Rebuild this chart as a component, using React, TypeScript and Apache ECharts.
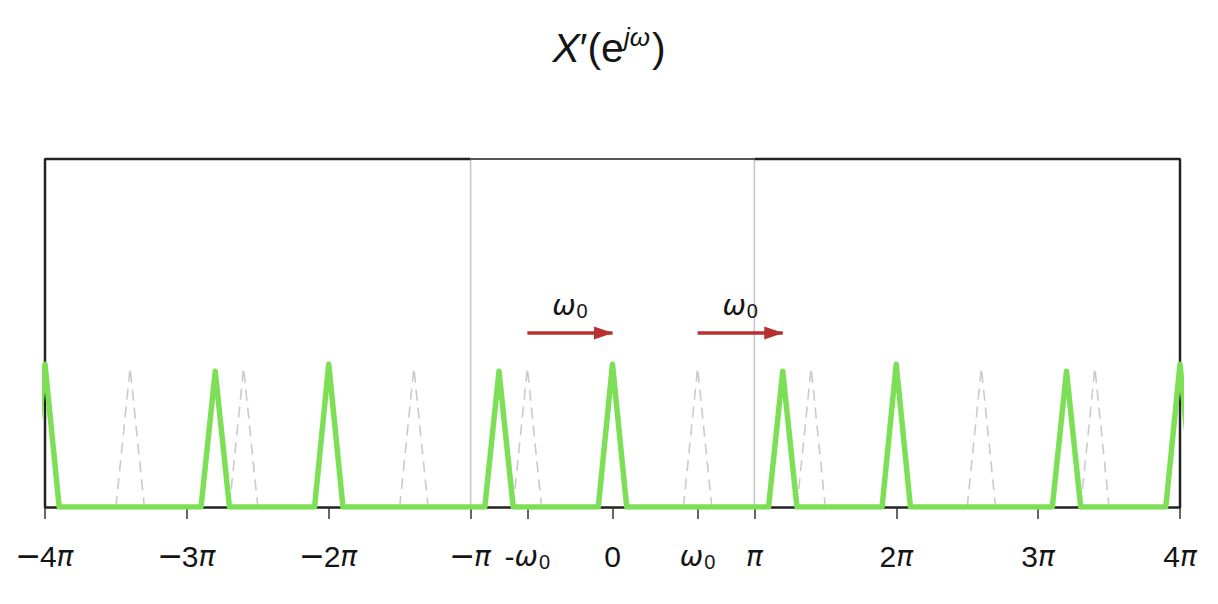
import React, { useEffect, useRef } from "react";
import * as echarts from "echarts";

// x values are in units of π
const tickValues = [-4, -3, -2, -1, -0.6, 0, 0.6, 1, 2, 3, 4];
const tickLabels = [
  "{mi|−}{d|4}{pi|π}",
  "{mi|−}{d|3}{pi|π}",
  "{mi|−}{d|2}{pi|π}",
  "{mi|−}{pi|π}",
  "{d|-}{w|ω}{s|0}",
  "{d|0}",
  "{w|ω}{s|0}",
  "{pi|π}",
  "{d|2}{pi|π}",
  "{d|3}{pi|π}",
  "{d|4}{pi|π}",
];

// shifted spectrum X'(e^jω) (green)
const greenPeakCenters = [-4, -2.8, -2, -0.8, 0, 1.2, 2, 3.2, 4];
const greenPeakHeights = [0.41, 0.39, 0.41, 0.39, 0.41, 0.39, 0.41, 0.39, 0.41];
// original spectrum X(e^jω) (grey dashed)
const greyPeakCenters = [-3.4, -2.6, -1.4, -0.6, 0.6, 1.4, 2.6, 3.4];
const greyPeakHeights = [0.4, 0.4, 0.4, 0.4, 0.4, 0.4, 0.4, 0.4];
const peakHalfWidth = 0.1;

// shift arrows (ω0)
const arrowStarts = [-0.6, 0.6];
const arrowEnds = [0, 1.2];
const arrowLevel = 0.5;

const xMin = -4;
const xMax = 4;
const yMax = 1;
const piLines = [-1, 1];

const FONT = "Liberation Sans";

export default function App() {
  const ref = useRef<HTMLDivElement>(null);

  useEffect(() => {
    if (!ref.current) return;
    const chart = echarts.init(ref.current, null, { renderer: "svg" });

    const greenData: number[][] = [];
    greenPeakCenters.forEach((c, i) => {
      greenData.push([c - peakHalfWidth, 0], [c, greenPeakHeights[i]], [c + peakHalfWidth, 0]);
    });

    const greySeries = greyPeakCenters.map((c, i) => ({
      type: "line",
      silent: true,
      symbol: "none",
      z: 3,
      data: [
        [c - peakHalfWidth, 0],
        [c, greyPeakHeights[i]],
        [c + peakHalfWidth, 0],
      ],
      lineStyle: { color: "#cacaca", width: 1.6, type: [11, 7] },
    }));

    const labelMap: Record<string, string> = {};
    tickValues.forEach((v, i) => {
      labelMap[String(v)] = tickLabels[i];
    });

    const LH = 36;
    const labelRich = {
      mi: { fontSize: 40, fontFamily: FONT, color: "#151515", lineHeight: LH },
      d: { fontSize: 30, fontFamily: FONT, color: "#151515", lineHeight: LH },
      pi: { fontSize: 28, fontFamily: "DejaVu Sans", fontStyle: "italic", color: "#151515", lineHeight: LH },
      w: { fontSize: 28, fontFamily: "DejaVu Sans", fontStyle: "italic", color: "#151515", lineHeight: LH },
      s: { fontSize: 20, fontFamily: FONT, color: "#151515", lineHeight: LH - 12, padding: [12, 0, 0, 1] },
    };

    const option: any = {
      animation: false,
      backgroundColor: "#ffffff",
      title: {
        text: "{x|X}{p|′}{n|(e}{sup|jω}{n|)}",
        left: "center",
        top: 18,
        textStyle: {
          fontWeight: "normal",
          rich: {
            x: { fontSize: 41, fontStyle: "italic", fontWeight: "normal", fontFamily: FONT, color: "#151515", lineHeight: 50 },
            p: { fontSize: 41, fontWeight: "normal", fontFamily: FONT, color: "#151515", lineHeight: 50 },
            n: { fontSize: 41, fontWeight: "normal", fontFamily: FONT, color: "#151515", lineHeight: 50 },
            sup: { fontSize: 26, fontStyle: "italic", fontWeight: "normal", fontFamily: FONT, color: "#151515", lineHeight: 50, padding: [0, 2, 22, 0] },
          },
        },
      },
      grid: { left: 45, right: 38, top: 159, bottom: 97 },
      xAxis: {
        type: "value",
        min: xMin,
        max: xMax,
        splitLine: { show: false },
        axisLine: { show: true, onZero: false, lineStyle: { color: "#222", width: 2.5 } },
        axisTick: {
          show: true,
          customValues: tickValues,
          length: 12,
          lineStyle: { color: "#333", width: 1.5 },
        },
        axisLabel: {
          show: true,
          customValues: tickValues,
          margin: 31,
          fontSize: 30,
          fontFamily: FONT,
          color: "#151515",
          formatter: (v: number) => labelMap[String(Math.round(v * 10) / 10)] ?? "",
          rich: labelRich,
        },
      },
      yAxis: {
        type: "value",
        min: 0,
        max: yMax,
        show: false,
      },
      series: [
        // pi guide lines
        ...piLines.map((p) => ({
          type: "line",
          silent: true,
          symbol: "none",
          clip: false,
          z: 1,
          data: [
            [p, 0],
            [p, yMax],
          ],
          lineStyle: { color: "#c8c8c8", width: 1.6 },
        })),
        // frame
        {
          type: "line",
          silent: true,
          symbol: "none",
          clip: false,
          z: 2,
          data: [
            [xMin, 0],
            [xMin, yMax],
            [piLines[0], yMax],
          ],
          lineStyle: { color: "#222", width: 2.5 },
        },
        {
          type: "line",
          silent: true,
          symbol: "none",
          clip: false,
          z: 2,
          data: [
            [piLines[0], yMax],
            [piLines[1], yMax],
          ],
          lineStyle: { color: "#555", width: 2 },
        },
        {
          type: "line",
          silent: true,
          symbol: "none",
          clip: false,
          z: 2,
          data: [
            [piLines[1], yMax],
            [xMax, yMax],
            [xMax, 0],
          ],
          lineStyle: { color: "#222", width: 2.5 },
        },
        ...greySeries,
        {
          type: "line",
          silent: true,
          symbol: "none",
          z: 5,
          data: greenData,
          lineStyle: { color: "#7ddf55", width: 5.5, join: "round", cap: "round" },
          markLine: {
            silent: true,
            symbol: ["none", "triangle"],
            symbolSize: [13, 19],
            symbolOffset: [
              [0, 0],
              [0, 9],
            ],
            lineStyle: { color: "#b83030", width: 3.5, type: "solid" },
            label: {
              show: true,
              position: "middle",
              distance: 10,
              formatter: "{w|ω}{s|0}",
              rich: labelRich,
            },
            data: arrowStarts.map((s, i) => [
              { coord: [s, arrowLevel] },
              { coord: [arrowEnds[i], arrowLevel] },
            ]),
          },
        },
      ],
    };

    chart.setOption(option);
    return () => chart.dispose();
  }, []);

  return (
    <div
      ref={ref}
      style={{ position: "fixed", left: 0, top: 0, width: 1218, height: 604, background: "#fff" }}
    />
  );
}
